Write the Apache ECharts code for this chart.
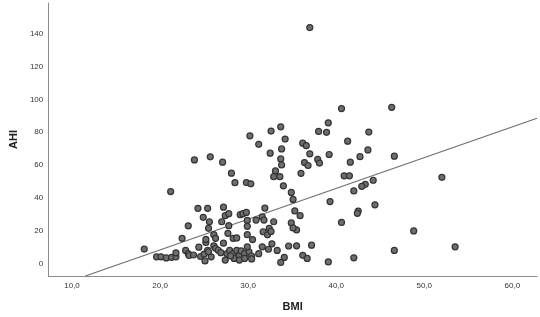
<!DOCTYPE html>
<html>
<head>
<meta charset="utf-8">
<script src="https://cdn.jsdelivr.net/npm/echarts@6/dist/echarts.min.js"></script>
<style>html,body{margin:0;padding:0;background:#fff}#c{width:540px;height:317px}</style>
</head>
<body>
<div id="c"></div>
<script>
const bmi = [37.0,40.6,46.3,30.2,31.2,32.6,33.7,34.2,36.2,36.6,38.0,38.9,39.1,41.3,43.7,37.0,39.2,43.6,46.6,37.9,38.1,36.4,36.8,42.7,41.6,36.0,40.9,41.5,44.2,43.3,42.9,42.0,39.3,44.4,42.5,42.4,40.6,37.2,36.2,36.7,39.1,42.0,46.6,52.0,48.8,53.5,33.8,32.5,33.7,33.8,23.9,25.7,27.1,28.1,33.1,32.9,33.6,28.5,29.8,30.3,34.0,21.2,34.9,35.1,24.3,25.4,27.2,31.9,24.9,25.6,23.2,27.0,27.4,27.8,27.8,29.1,29.4,29.8,25.5,22.5,35.3,35.9,35.5,35.5,34.6,34.9,35.1,32.9,29.9,29.9,30.9,31.6,31.8,31.7,32.4,32.2,32.6,26.1,26.3,27.7,28.3,28.7,29.9,30.5,27.2,18.2,19.6,20.1,20.7,21.3,21.8,21.8,22.9,23.2,23.3,23.8,24.4,24.6,25.0,25.2,25.2,25.4,25.1,25.8,26.1,26.3,26.6,26.9,27.4,27.6,27.9,28.3,28.4,28.7,29.0,29.2,29.6,29.0,29.6,30.1,30.4,31.2,31.6,32.3,32.7,33.3,33.7,34.1,25.5,28.0,29.9,30.4];
const ahi = [143.8,94.4,95.2,77.8,72.6,80.7,83.3,75.8,73.3,71.8,80.5,79.9,85.7,74.5,80.1,66.8,66.4,69.2,65.4,63.4,61.2,61.5,59.7,65.1,61.7,54.9,53.4,53.4,50.7,48.2,47.0,44.2,37.7,35.7,31.9,30.5,25.0,11.1,4.9,3.0,0.9,3.4,7.9,52.5,19.8,10.1,69.8,67.2,63.7,60.0,63.1,65.0,61.7,55.0,56.4,52.9,52.9,49.2,49.3,48.5,47.3,43.8,43.3,39.0,33.6,33.6,34.3,33.7,28.1,25.4,22.9,25.4,29.1,30.3,23.0,29.7,30.3,31.1,21.4,15.3,32.0,29.1,20.4,10.7,10.6,24.7,21.6,25.4,26.2,22.6,26.4,28.3,26.4,19.3,21.3,17.4,19.5,17.5,15.3,18.3,15.3,15.5,17.5,14.5,12.3,8.7,4.0,4.0,3.3,3.7,4.0,6.4,7.9,5.9,4.8,5.1,9.9,4.2,5.7,12.8,14.6,8.0,1.5,4.0,10.7,9.2,8.0,6.5,2.0,5.9,7.9,5.9,3.0,7.9,4.9,7.6,5.9,2.0,3.0,7.1,4.5,5.9,10.1,8.6,11.9,7.9,0.6,3.6,7.1,4.5,10.1,2.7];
const xTicks = [10,20,30,40,50,60];
const yTicks = [0,20,40,60,80,100,120,140];
const fitIntercept = -29.3;
const fitSlope = 1.876;
const xMin = 7.3, xMax = 62.8, yMin = -7.7, yMax = 158.8;

const points = bmi.map((b,i)=>[b, ahi[i]]);
const xStart = (yMin - fitIntercept) / fitSlope;
const fitLine = [[xStart, yMin], [xMax, fitIntercept + fitSlope * xMax]];

const chart = echarts.init(document.getElementById('c'), null, {renderer:'canvas'});
const axisLabelStyle = {color:'#333', fontSize:8, fontFamily:'Liberation Sans'};
chart.setOption({
  animation:false,
  backgroundColor:'#fff',
  grid:{left:37, right:3, top:3, bottom:34, containLabel:false},
  xAxis:{
    type:'value', min:xMin, max:xMax,
    name:'BMI', nameLocation:'middle', nameGap:25,
    nameTextStyle:{fontWeight:'bold', fontSize:11, color:'#222', fontFamily:'Liberation Sans'},
    axisLine:{show:true, onZero:false, lineStyle:{color:'#8c8c8c', width:1}},
    axisTick:{show:false},
    splitLine:{show:false},
    axisLabel:Object.assign({margin:6, customValues:xTicks, formatter:v=>v.toFixed(1).replace('.',',')}, axisLabelStyle)
  },
  yAxis:{
    type:'value', min:yMin, max:yMax,
    name:'AHI', nameLocation:'middle', nameGap:27, nameRotate:90,
    nameTextStyle:{fontWeight:'bold', fontSize:11, color:'#222', fontFamily:'Liberation Sans'},
    axisLine:{show:true, onZero:false, lineStyle:{color:'#8c8c8c', width:1}},
    axisTick:{show:false},
    splitLine:{show:false},
    axisLabel:Object.assign({margin:5, customValues:yTicks, formatter:v=>String(v)}, axisLabelStyle)
  },
  series:[
    {type:'line', data:fitLine, symbol:'none', lineStyle:{color:'#707070', width:1.3}, z:1},
    {type:'scatter', data:points, symbol:'circle', symbolSize:6,
     itemStyle:{color:'#6e6e6e', borderColor:'#333', borderWidth:1.2, opacity:1}, z:2}
  ]
});
</script>
</body>
</html>
